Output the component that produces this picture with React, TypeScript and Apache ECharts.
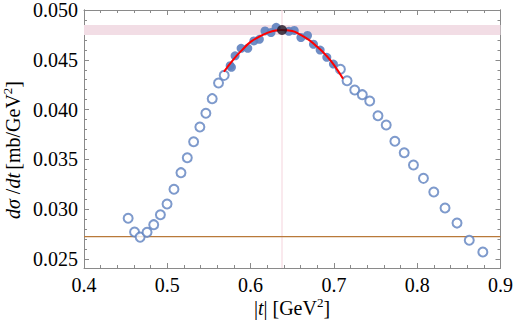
import React, { useEffect, useRef } from "react";
import * as echarts from "echarts";

// |t| values and dσ/dt values
const openT = [0.453, 0.4607, 0.4674, 0.4757, 0.4837, 0.4917, 0.4997, 0.508, 0.5164, 0.524, 0.5316, 0.5391, 0.5463, 0.5539, 0.5615, 0.5683,
  0.7078, 0.7158, 0.725, 0.7341, 0.743, 0.7529, 0.7628, 0.7732, 0.7844, 0.7955, 0.8075, 0.8199, 0.8334, 0.8478, 0.8625, 0.8788];
const openY = [0.0291, 0.02771, 0.0272, 0.02768, 0.02845, 0.02945, 0.03052, 0.032, 0.03367, 0.03517, 0.03678, 0.03825, 0.03963, 0.0411, 0.04267, 0.04344,
  0.04405, 0.0429, 0.04197, 0.0415, 0.04086, 0.03939, 0.03845, 0.03682, 0.03567, 0.03444, 0.0331, 0.03173, 0.03012, 0.02861, 0.02688, 0.0257];

const fitT = [0.5755, 0.577, 0.5814, 0.5886, 0.5966, 0.6039, 0.6105, 0.6173, 0.6245, 0.6307, 0.646, 0.6524, 0.6604, 0.6683, 0.6755, 0.6835, 0.6915, 0.6994];
const fitY = [0.04441, 0.04425, 0.0454, 0.04615, 0.04615, 0.0469, 0.04706, 0.0479, 0.04774, 0.04826, 0.04786, 0.04795, 0.04724, 0.04745, 0.04656, 0.04598, 0.04525, 0.04457];

const curveT = [0.568, 0.58, 0.59, 0.6, 0.61, 0.62, 0.63, 0.637, 0.65, 0.66, 0.67, 0.68, 0.69, 0.7, 0.711];
const curveY = [0.0438, 0.0451, 0.046, 0.0468, 0.0473, 0.0477, 0.04795, 0.048, 0.0479, 0.0475, 0.047, 0.0463, 0.0455, 0.0445, 0.0431];

const peakT = 0.6377;
const peakY = 0.04799;
const bandLow = 0.04749;
const bandHigh = 0.04849;
const baseline = 0.02724;

const xRange = [0.4, 0.9];
const yRange = [0.0241, 0.05];
const xTicks = [0.4, 0.5, 0.6, 0.7, 0.8, 0.9];
const yTicks = [0.025, 0.03, 0.035, 0.04, 0.045, 0.05];
const yMinor: number[] = [];
for (let i = 25; i <= 50; i++) yMinor.push(i / 1000);

const FONT = "Liberation Serif";
const FRAME = "#8a8a8a";

export default function App() {
  const ref = useRef<HTMLDivElement>(null);
  useEffect(() => {
    const chart = echarts.init(ref.current!, null, { renderer: "svg" });
    const labelStyle = { fontFamily: FONT, fontSize: 20, color: "#000" };
    const xAx = (pos: string, labels: boolean) => ({
      type: "value",
      position: pos,
      min: xRange[0],
      max: xRange[1],
      interval: 0.1,
      axisLine: { show: true, onZero: false, lineStyle: { color: FRAME, width: 1 } },
      axisTick: { show: true, inside: true, length: 5, lineStyle: { color: FRAME } },
      minorTick: { show: true, splitNumber: 5, length: 3, lineStyle: { color: FRAME } },
      splitLine: { show: false },
      axisLabel: labels
        ? { show: true, margin: 7, ...labelStyle, customValues: xTicks, formatter: (v: number) => v.toFixed(1) }
        : { show: false },
    });
    const yAx = (pos: string, ticks: number[], len: number, labels: boolean) => ({
      type: "value",
      position: pos,
      min: yRange[0],
      max: yRange[1],
      axisLine: { show: true, onZero: false, lineStyle: { color: FRAME, width: 1 } },
      axisTick: { show: true, inside: true, length: len, customValues: ticks, lineStyle: { color: FRAME } },
      splitLine: { show: false },
      axisLabel: labels
        ? { show: true, margin: 6, customValues: yTicks, ...labelStyle, formatter: (v: number) => v.toFixed(3) }
        : { show: false },
    });
    const rich = {
      i: { fontFamily: FONT, fontSize: 20, fontStyle: "italic", fill: "#000", lineHeight: 24 },
      n: { fontFamily: FONT, fontSize: 20, fill: "#000", lineHeight: 24 },
      s: { fontFamily: FONT, fontSize: 13, fill: "#000", verticalAlign: "top", lineHeight: 24 },
    };
    chart.setOption({
      animation: false,
      grid: { left: 84, right: 14, top: 10, bottom: 59, containLabel: false },
      xAxis: [xAx("bottom", true), xAx("top", false)],
      yAxis: [
        yAx("left", yTicks, 5, true),
        yAx("left", yMinor, 3, false),
        yAx("right", yTicks, 5, false),
        yAx("right", yMinor, 3, false),
      ],
      graphic: [
        {
          type: "text",
          x: 13,
          y: 150,
          rotation: Math.PI / 2,
          style: {
            text: "{i|dσ}{n| /}{i|dt} {n|[mb/GeV}{s|2}{n|]}",
            align: "center",
            verticalAlign: "middle",
            rich,
          },
        },
        {
          type: "text",
          x: 292,
          y: 308,
          style: {
            text: "{n||}{i|t}{n|| [GeV}{s|2}{n|]}",
            align: "center",
            verticalAlign: "middle",
            rich,
          },
        },
      ],
      series: [
        {
          type: "line",
          data: [],
          silent: true,
          markArea: {
            silent: true,
            itemStyle: { color: "#f2dde5" },
            data: [[{ yAxis: bandLow }, { yAxis: bandHigh }]],
          },
        },
        {
          type: "line",
          data: [[peakT, yRange[0]], [peakT, yRange[1]]],
          showSymbol: false,
          silent: true,
          lineStyle: { color: "#f5d3dc", width: 1 },
          z: 1,
        },
        {
          type: "line",
          data: [[xRange[0], baseline], [xRange[1], baseline]],
          showSymbol: false,
          silent: true,
          lineStyle: { color: "#b9793a", width: 1.3 },
          z: 2,
        },
        {
          type: "scatter",
          data: openT.map((t, i) => [t, openY[i]]),
          symbol: "emptyCircle",
          symbolSize: 9,
          itemStyle: { color: "#5e81bf", borderColor: "#5e81bf", borderWidth: 1.8 },
          z: 3,
        },
        {
          type: "scatter",
          data: fitT.map((t, i) => [t, fitY[i]]),
          symbol: "circle",
          symbolSize: 9,
          itemStyle: { color: "#5e81bf", opacity: 0.9 },
          z: 4,
        },
        {
          type: "line",
          data: curveT.map((t, i) => [t, curveY[i]]),
          smooth: true,
          showSymbol: false,
          lineStyle: { color: "#ff0000", width: 2 },
          z: 5,
        },
        {
          type: "scatter",
          data: [[peakT, peakY]],
          symbol: "circle",
          symbolSize: 10,
          itemStyle: { color: "#1e1422" },
          z: 6,
        },
      ],
    });
    return () => chart.dispose();
  }, []);
  return <div ref={ref} style={{ width: 516, height: 327, position: "absolute", left: 0, top: 0 }} />;
}
